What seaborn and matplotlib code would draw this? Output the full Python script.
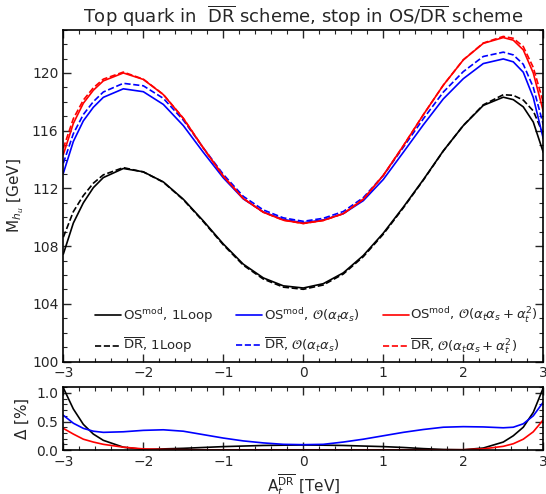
import numpy as np
import pandas as pd
import matplotlib
matplotlib.use('Agg')
import matplotlib.pyplot as plt
from matplotlib.ticker import MultipleLocator
import seaborn as sns

# A_t^DR in TeV, shared by all series
at_tev = [-3.0, -2.875, -2.75, -2.625, -2.5, -2.25, -2.0, -1.75, -1.5, -1.25, -1.0,
          -0.75, -0.5, -0.25, 0.0, 0.25, 0.5, 0.75, 1.0, 1.25, 1.5, 1.75, 2.0,
          2.25, 2.5, 2.625, 2.75, 2.875, 3.0]

# M_hu [GeV]
os_1loop = [107.45, 109.6, 111.0, 112.05, 112.75, 113.38, 113.15, 112.45, 111.25, 109.75, 108.15,
            106.75, 105.8, 105.25, 105.1, 105.4, 106.15, 107.35, 108.9, 110.7, 112.6, 114.6, 116.35,
            117.75, 118.32, 118.15, 117.65, 116.6, 114.5]
dr_1loop = [108.62, 110.39, 111.5, 112.36, 112.94, 113.44, 113.14, 112.43, 111.22, 109.7, 108.09,
            106.68, 105.72, 105.16, 105.01, 105.31, 106.07, 107.27, 108.83, 110.65, 112.57, 114.59, 116.36,
            117.79, 118.49, 118.45, 118.12, 117.37, 115.75]
os_atas = [113.05, 115.25, 116.68, 117.62, 118.31, 118.9, 118.7, 117.82, 116.35, 114.5, 112.73,
           111.27, 110.37, 109.85, 109.62, 109.82, 110.25, 111.15, 112.62, 114.5, 116.4, 118.2, 119.6,
           120.65, 120.97, 120.77, 120.05, 118.3, 115.45]
dr_atas = [113.74, 115.79, 117.12, 118.01, 118.68, 119.28, 119.11, 118.24, 116.73, 114.81, 112.97,
           111.45, 110.51, 109.96, 109.72, 109.93, 110.4, 111.36, 112.9, 114.85, 116.82, 118.67, 120.09,
           121.14, 121.44, 121.25, 120.6, 119.01, 116.42]
os_atas_at2 = [114.35, 116.5, 117.9, 118.8, 119.45, 120.0, 119.55, 118.5, 116.85, 114.8, 112.85,
               111.3, 110.35, 109.8, 109.57, 109.78, 110.25, 111.25, 112.9, 114.95, 117.1, 119.15, 120.9,
               122.05, 122.45, 122.27, 121.6, 120.0, 117.35]
dr_atas_at2 = [114.78, 116.83, 118.12, 118.97, 119.57, 120.06, 119.57, 118.51, 116.86, 114.8, 112.85,
               111.3, 110.35, 109.8, 109.57, 109.78, 110.25, 111.25, 112.9, 114.95, 117.1, 119.15, 120.91,
               122.07, 122.53, 122.4, 121.83, 120.38, 117.97]

# relative difference Delta [%]
delta_1loop = [1.09, 0.72, 0.45, 0.28, 0.17, 0.05, 0.01, 0.02, 0.03, 0.045, 0.06,
               0.07, 0.08, 0.085, 0.088, 0.085, 0.08, 0.07, 0.06, 0.045, 0.025, 0.01, 0.005,
               0.035, 0.14, 0.25, 0.40, 0.66, 1.09]
delta_atas = [0.61, 0.47, 0.38, 0.33, 0.31, 0.32, 0.345, 0.355, 0.33, 0.27, 0.21,
              0.16, 0.125, 0.10, 0.094, 0.10, 0.14, 0.19, 0.25, 0.31, 0.36, 0.40, 0.41,
              0.405, 0.39, 0.40, 0.46, 0.60, 0.84]
delta_atas_at2 = [0.38, 0.28, 0.19, 0.14, 0.10, 0.05, 0.02, 0.01, 0.005, 0.004, 0.004,
                  0.004, 0.004, 0.004, 0.004, 0.004, 0.004, 0.004, 0.004, 0.004, 0.004, 0.004, 0.005,
                  0.02, 0.065, 0.11, 0.19, 0.32, 0.53]

os_lbl = r'OS$^{\rm mod}$'
dr_lbl = r'$\overline{\rm DR}$'
order_lbl = ['1Loop', r'$\mathcal{O}(\alpha_t\alpha_s)$', r'$\mathcal{O}(\alpha_t\alpha_s+\alpha_t^2)$']
colors = ['black', '#0000ff', '#ff0000']

sns.set_style('ticks')
plt.rcParams['font.family'] = ['DejaVu Sans']
plt.rcParams['mathtext.fontset'] = 'dejavusans'

fig = plt.figure(figsize=(5.46, 4.94), dpi=100)
ax = fig.add_axes([0.116, 0.268, 0.879, 0.672])
axd = fig.add_axes([0.116, 0.089, 0.879, 0.127])

x = np.array(at_tev)
os_series = [os_1loop, os_atas, os_atas_at2]
dr_series = [dr_1loop, dr_atas, dr_atas_at2]
for c, lbl, y_os, y_dr in zip(colors, order_lbl, os_series, dr_series):
    sns.lineplot(x=x, y=y_os, ax=ax, color=c, lw=1.2, label=f'{os_lbl}, {lbl}')
    sns.lineplot(x=x, y=y_dr, ax=ax, color=c, lw=1.2, linestyle='--', label=f'{dr_lbl}, {lbl}')

for c, d in zip(colors, [delta_1loop, delta_atas, delta_atas_at2]):
    sns.lineplot(x=x, y=d, ax=axd, color=c, lw=1.2, legend=False)

ax.set_xlim(-3, 3)
ax.set_ylim(100, 123)
ax.yaxis.set_major_locator(MultipleLocator(4))
ax.yaxis.set_minor_locator(MultipleLocator(1))
ax.set_ylabel(r'M$_{h_u}$ [GeV]', fontsize=11, labelpad=4)
ax.set_title(r'Top quark in  $\overline{\rm DR}$ scheme, stop in OS/$\overline{\rm DR}$ scheme',
             fontsize=13, pad=5)

axd.set_xlim(-3, 3)
axd.set_ylim(0, 1.1)
axd.yaxis.set_major_locator(MultipleLocator(0.5))
axd.yaxis.set_minor_locator(MultipleLocator(0.1))
axd.set_ylabel(r'$\Delta$ [%]', fontsize=11, labelpad=4)
axd.set_xlabel(r'A$_t^{\overline{\rm DR}}$ [TeV]', fontsize=11, labelpad=2)

for a in (ax, axd):
    a.xaxis.set_major_locator(MultipleLocator(1))
    a.xaxis.set_minor_locator(MultipleLocator(0.2))
    a.tick_params(which='both', direction='in', top=True, right=True, labelsize=10)
    a.tick_params(which='major', length=6, width=1)
    a.tick_params(which='minor', length=3, width=0.8)
    for s in a.spines.values():
        s.set_linewidth(1.2)
        s.set_color('black')

ax.legend(ncol=3, loc='lower left', bbox_to_anchor=(0.055, 0.0), frameon=False,
          fontsize=9.5, handlelength=2.0, handletextpad=0.1, columnspacing=1.75,
          labelspacing=0.85, borderaxespad=0.0)

fig.savefig('out.png', dpi=100)
